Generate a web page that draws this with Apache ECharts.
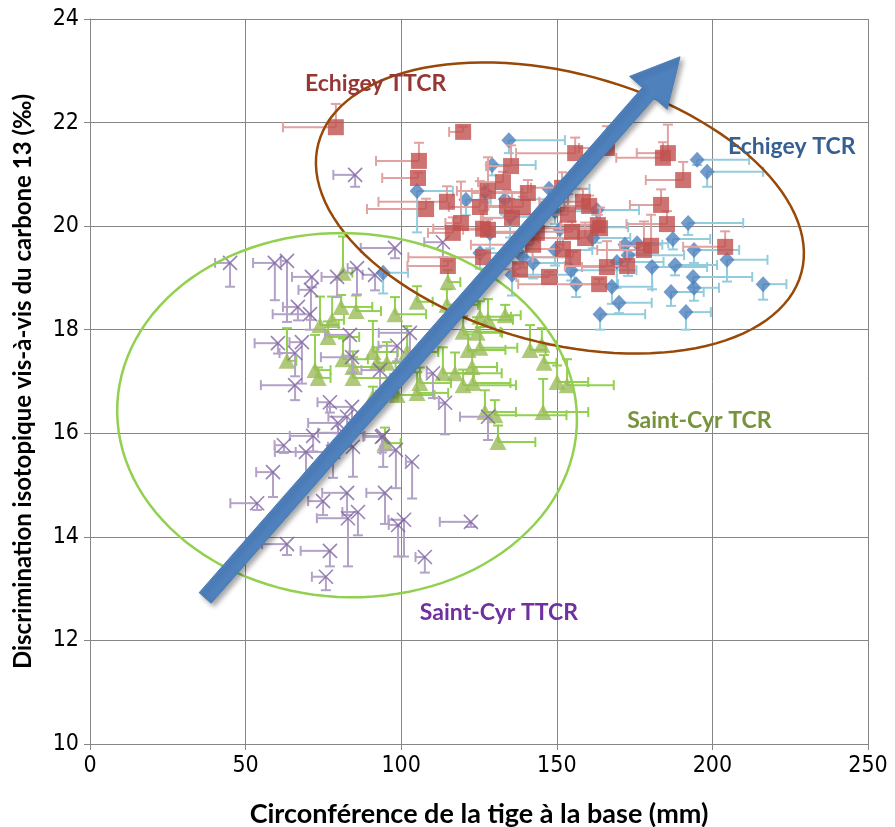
<!DOCTYPE html>
<html><head><meta charset="utf-8">
<script src="https://cdn.jsdelivr.net/npm/echarts@6/dist/echarts.min.js"></script>
<style>html,body{margin:0;padding:0;background:#fff}#c{width:895px;height:827px}</style>
</head><body><div id="c"></div>
<script>
// ---- Data ----
const xTicks = [0, 50, 100, 150, 200, 250];
const yTicks = [10, 12, 14, 16, 18, 20, 22, 24];

// Echigey TTCR (red squares) : x error to the left, y error upwards
const redX = [79.0,119.9,105.7,105.4,108.0,114.7,119.2,116.6,115.0,125.3,126.3,127.9,132.7,135.3,134.0,139.1,140.7,135.6,143.6,142.4,126.3,138.2,147.5,151.7,155.9,166.1,184.1,185.7,190.6,158.4,160.4,153.6,183.5,185.4,163.2,163.9,154.9,159.1,152.0,155.2,178.0,180.3,204.1,166.1,172.6,163.6,127.9];
const redY = [21.91,21.82,21.26,20.93,20.33,20.47,20.06,19.87,19.23,20.37,19.95,20.68,20.85,21.16,20.39,20.37,20.64,20.16,19.87,19.64,19.40,19.17,19.02,20.74,21.41,21.51,21.32,21.41,20.89,20.47,20.39,20.22,20.41,20.04,20.02,19.96,19.89,19.77,19.56,19.40,19.54,19.62,19.60,19.21,19.23,18.88,19.93];
const redXErr = [17,4.5,13.8,11.5,19,22,5,8,13,10,16,10,8,8,6,12,18,10,15,20,24,10,10.5,10,19,9,15,10,12,14,8,20,10,13,12,20,25,15,12,13,15,10,13.5,8,20,26,8];
const redYErr = [0.45,0.1,0.35,0.1,0.2,0.3,0.8,0.3,0.1,0.5,0.35,0.65,0.2,0.4,0.3,0.2,0.25,0.5,0.3,0.2,0.1,0.1,0.1,0.3,0.3,0.42,0.3,0.55,0.35,0.25,0.2,0.4,0.3,0.25,0.2,0.4,0.2,0.3,0.2,0.1,0.55,0.6,0.3,0.5,0.3,0.1,0.2];

// Echigey TCR (blue diamonds) : x error to the right, y error downwards
const blueX = [134.6,129.2,105.1,120.8,133.4,147.5,135.0,126.9,128.5,125.3,139.1,142.4,135.6,94.2,149.4,151.0,162.9,162.9,161.6,149.4,154.6,156.2,167.7,170.0,163.9,169.3,171.9,175.8,172.9,180.6,188.0,187.3,192.2,194.1,195.1,198.3,193.8,194.1,186.7,191.5,204.7,216.3];
const blueY = [21.66,21.18,20.68,20.51,20.52,20.72,20.18,20.66,19.87,19.48,19.40,19.29,19.06,19.10,20.29,19.94,20.31,19.98,19.77,19.54,19.15,18.88,18.83,18.52,18.30,19.31,19.64,19.67,19.44,19.21,19.25,19.75,20.06,19.54,21.28,21.05,19.02,18.81,18.73,18.34,19.35,18.88];
const blueXErr = [18,14,11.5,8,15,13,10,12,10,15,15,12,20,8,12,10,13.5,10,12,12,21,13.5,13,10.5,14.5,15,12,10,18,17.7,13.5,12,17.7,14.5,16.7,18,19,8,10.5,8,13,7.5];
const blueYErr = [0.25,0.2,0.8,0.3,0.3,0.3,0.4,0.2,0.3,0.3,0.2,0.3,0.4,0.4,0.25,0.3,0.3,0.3,0.2,0.3,0.2,0.25,0.33,0.2,0.3,0.5,0.3,0.2,0.4,0.43,0.2,0.2,0.23,0.25,0.1,0.29,0.2,0.25,0.27,0.34,0.42,0.3];

// Saint-Cyr TCR (green triangles) : x error to the right, y error upwards
const greenX = [81.3,80.7,85.5,73.9,77.8,76.5,63.3,72.3,73.3,81.3,84.5,84.5,90.9,92.2,90.9,98.0,105.1,114.7,115.0,125.3,127.9,133.4,119.9,124.4,121.5,125.3,101.9,141.4,145.2,145.9,95.4,113.4,117.3,122.8,106.0,119.9,123.1,150.1,153.3,105.1,98.7,126.9,130.1,145.6,131.1,94.8];
const greenY = [19.10,18.44,18.36,18.09,18.19,17.86,17.40,17.22,17.07,17.43,17.28,17.07,17.57,17.36,16.70,18.30,18.54,18.48,18.92,18.25,18.19,18.28,17.96,17.94,17.61,17.65,17.57,17.61,17.71,17.36,17.36,17.16,17.16,17.28,16.97,16.93,16.97,16.99,16.93,16.78,16.74,16.41,16.35,16.41,15.83,15.81];
const greenXErr = [3,10,8,6,3.8,10,3,5,4,8,10,12,8,6,8,10,5,10,4,10,8,5,12,8,12,12,10,5,4.8,4,8,10,15,8,10,17,12,10,15,10,12,10,23,14.5,12,5];
const greenYErr = [0.7,0.23,0.3,0.55,0.45,0.3,0.63,0.68,0.2,0.4,0.3,0.4,0.6,0.3,0.2,0.33,0.3,0.3,0.23,0.3,0.4,0.2,0.3,0.3,0.3,0.4,0.5,0.48,0.32,0.15,0.4,0.5,0.4,0.3,0.3,0.3,0.3,0.32,0.5,0.4,0.3,0.42,0.29,0.64,0.32,0.3];

// Saint-Cyr TTCR (purple crosses) : x error to the left, y error downwards
const purpleX = [45.0,59.4,63.3,71.3,71.0,79.4,85.8,91.6,66.8,70.7,60.4,68.1,65.9,65.9,83.5,84.2,77.1,84.2,79.7,82.6,93.2,98.7,102.8,110.2,114.1,98.0,113.4,85.2,127.9,93.8,62.3,71.7,69.4,81.3,84.5,78.1,94.2,98.3,103.5,58.8,53.7,74.9,82.6,86.1,82.9,94.8,100.9,99.0,63.3,77.1,75.8,107.6,122.4];
const purpleY = [19.29,19.29,19.33,19.02,18.77,19.02,19.19,19.06,18.44,18.30,17.74,17.76,17.55,16.93,17.90,17.47,16.60,16.51,16.20,16.32,17.22,17.69,17.94,17.16,16.59,19.58,19.69,20.99,16.32,15.93,15.77,15.95,15.64,16.01,15.74,15.64,15.95,15.68,15.45,15.25,14.65,14.69,14.85,14.48,14.36,14.85,14.33,14.23,13.86,13.73,13.23,13.61,14.29];
const purpleXErr = [4.8,7,2,6.4,4,5,3,4,4.8,12,7.5,4,5,11,8,10,4,8,9.6,6,6,6,10,2,2,11,6,7,9,6,3,7.5,10,8,8,12,6,5,2,5.4,8.6,4.8,8,5,10,6,5,3,8,9.4,4.5,3,10];
const purpleYErr = [0.46,0.72,1.18,0.2,0.58,0.39,0.51,0.3,0.26,0.3,0.2,0.8,0.45,0.29,0.4,0.3,0.2,0.3,0.2,0.3,0.4,0.3,0.4,0.48,0.61,0.2,0.29,0.23,0.45,0.3,0.15,0.3,0.58,0.3,0.58,0.5,0.6,0.74,0.71,0.48,0.13,0.27,0.43,0.45,0.93,0.6,0.71,0.61,0.21,0.3,0.26,0.3,0.1];

// Annotations (in data coordinates)
const groupLabels = [
  {text: 'Echigey TTCR', at: [69.1, 22.75], color: '#953735'},
  {text: 'Echigey TCR', at: [205.0, 21.53], color: '#376092'},
  {text: 'Saint-Cyr TCR', at: [172.6, 16.24], color: '#77933C'},
  {text: 'Saint-Cyr TTCR', at: [106.0, 12.53], color: '#7030A0'}
];
const arrowFrom = [37.0, 12.82];
const arrowTo = [189.6, 23.27];
const brownEllipseCenter = [151.0, 20.35];
const greenEllipseCenter = [82.6, 16.35];

const FONT = "'Liberation Sans Narrow','DejaVu Sans Condensed','Liberation Sans',sans-serif";
const TITLE_FONT = "Lato,'Open Sans',sans-serif";

function zip(xs, ys, ex, ey) { return xs.map((x, i) => [x, ys[i], ex[i], ey[i]]); }

function errRender(dirX, dirY, color) {
  return function (params, api) {
    const x = api.value(0), y = api.value(1), ex = api.value(2), ey = api.value(3);
    const p = api.coord([x, y]);
    const px = api.coord([x + dirX * ex, y]);
    const py = api.coord([x, y + dirY * ey]);
    const cap = 5;
    const style = {stroke: color, lineWidth: 2, fill: null};
    return {type: 'group', children: [
      {type: 'line', shape: {x1: p[0], y1: p[1], x2: px[0], y2: px[1]}, style: style},
      {type: 'line', shape: {x1: px[0], y1: px[1] - cap, x2: px[0], y2: px[1] + cap}, style: style},
      {type: 'line', shape: {x1: p[0], y1: p[1], x2: py[0], y2: py[1]}, style: style},
      {type: 'line', shape: {x1: py[0] - cap, y1: py[1], x2: py[0] + cap, y2: py[1]}, style: style}
    ]};
  };
}

function errSeries(name, data, dirX, dirY, color, z) {
  return {type: 'custom', name: name + ' err', data: data, z: z, silent: true,
    encode: {x: 0, y: 1}, renderItem: errRender(dirX, dirY, color), clip: false};
}
function markSeries(name, xs, ys, symbol, size, itemStyle, z) {
  return {type: 'scatter', name: name, data: xs.map((x, i) => [x, ys[i]]), symbol: symbol,
    symbolSize: size, itemStyle: itemStyle, z: z, silent: true};
}

const chart = echarts.init(document.getElementById('c'), null, {renderer: 'canvas'});
const axisColor = '#868686';
const option = {
  animation: false,
  backgroundColor: '#fff',
  grid: {left: 90, right: 27, top: 19, bottom: 83, containLabel: false, outerBoundsMode: 'none'},
  xAxis: {
    type: 'value', min: xTicks[0], max: xTicks[xTicks.length - 1], interval: 50,
    name: 'Circonférence de la tige à la base (mm)', nameLocation: 'middle', nameGap: 57,
    nameTextStyle: {fontFamily: TITLE_FONT, fontWeight: 'bold', fontSize: 27, color: '#000'},
    axisLine: {show: true, lineStyle: {color: axisColor, width: 1}},
    axisTick: {show: true, length: 6, lineStyle: {color: axisColor}},
    axisLabel: {fontFamily: FONT, fontSize: 23, color: '#000', margin: 11},
    splitLine: {show: true, lineStyle: {color: axisColor, width: 1}}
  },
  yAxis: {
    type: 'value', min: yTicks[0], max: yTicks[yTicks.length - 1], interval: 2,
    name: 'Discrimination isotopique vis-à-vis du carbone 13 (‰)', nameLocation: 'middle', nameGap: 55,
    nameTextStyle: {fontFamily: TITLE_FONT, fontWeight: 'bold', fontSize: 24, color: '#000'},
    axisLine: {show: true, lineStyle: {color: axisColor, width: 1}},
    axisTick: {show: true, length: 6, lineStyle: {color: axisColor}},
    axisLabel: {fontFamily: FONT, fontSize: 23, color: '#000', margin: 11},
    splitLine: {show: true, lineStyle: {color: axisColor, width: 1}}
  },
  series: [
    errSeries('Saint-Cyr TCR', zip(greenX, greenY, greenXErr, greenYErr), 1, 1, '#92D050', 2),
    markSeries('Saint-Cyr TCR', greenX, greenY, 'triangle', [17, 16], {color: '#9BBB59'}, 3),
    errSeries('Saint-Cyr TTCR', zip(purpleX, purpleY, purpleXErr, purpleYErr), -1, -1, '#B3A2C7', 4),
    markSeries('Saint-Cyr TTCR', purpleX, purpleY, 'path://M0,0L10,10M10,0L0,10', 14,
      {color: 'rgba(0,0,0,0)', borderColor: '#7F63A1', borderWidth: 1.6}, 5),
    errSeries('Echigey TCR', zip(blueX, blueY, blueXErr, blueYErr), 1, -1, '#93CDDD', 6),
    markSeries('Echigey TCR', blueX, blueY, 'diamond', [15, 16], {color: '#4F81BD'}, 7),
    errSeries('Echigey TTCR', zip(redX, redY, redXErr, redYErr), -1, 1, '#E0A3A2', 8),
    markSeries('Echigey TTCR', redX, redY, 'rect', 16, {color: '#C0504D'}, 9)
  ]
};
chart.setOption(option);

function toPx(p) { return chart.convertToPixel({gridIndex: 0}, p); }

function ellipsePoints(c, a, b, angDeg) {
  const th = angDeg * Math.PI / 180, pts = [];
  for (let i = 0; i <= 120; i++) {
    const t = i / 120 * Math.PI * 2;
    const ex = a * Math.cos(t), ey = b * Math.sin(t);
    pts.push([c[0] + ex * Math.cos(th) - ey * Math.sin(th), c[1] + ex * Math.sin(th) + ey * Math.cos(th)]);
  }
  return pts;
}

function arrowPoints(p0, p1) {
  const dx = p1[0] - p0[0], dy = p1[1] - p0[1], L = Math.hypot(dx, dy);
  const ux = dx / L, uy = dy / L, nx = -uy, ny = ux;
  const headLen = 48, headHalf = 25, sh = 8;
  const bx = p1[0] - ux * headLen, by = p1[1] - uy * headLen;
  return [
    [p0[0] + nx * sh, p0[1] + ny * sh], [bx + nx * sh, by + ny * sh], [bx + nx * headHalf, by + ny * headHalf],
    [p1[0], p1[1]], [bx - nx * headHalf, by - ny * headHalf], [bx - nx * sh, by - ny * sh], [p0[0] - nx * sh, p0[1] - ny * sh]
  ];
}

const graphics = [];
graphics.push({type: 'polygon', z: 100, silent: true,
  shape: {points: ellipsePoints(toPx(brownEllipseCenter), 250, 135, 15)},
  style: {fill: null, stroke: '#984807', lineWidth: 2.5}});
graphics.push({type: 'polygon', z: 100, silent: true,
  shape: {points: ellipsePoints(toPx(greenEllipseCenter), 230, 182, 3)},
  style: {fill: null, stroke: '#92D050', lineWidth: 2.5}});
graphics.push({type: 'polygon', z: 101, silent: true,
  shape: {points: arrowPoints(toPx(arrowFrom), toPx(arrowTo))},
  style: {fill: '#4F81BD', stroke: '#4A7EBB', lineWidth: 1, shadowBlur: 5, shadowOffsetX: 3, shadowOffsetY: 3, shadowColor: 'rgba(0,0,0,0.35)'}});
groupLabels.forEach(l => {
  const p = toPx(l.at);
  graphics.push({type: 'text', z: 102, silent: true, x: p[0], y: p[1],
    style: {text: l.text, fill: l.color, font: "bold 23px Lato, 'Open Sans', sans-serif", textAlign: 'left', textVerticalAlign: 'middle'}});
});
chart.setOption({graphic: graphics});
</script>
</body></html>
